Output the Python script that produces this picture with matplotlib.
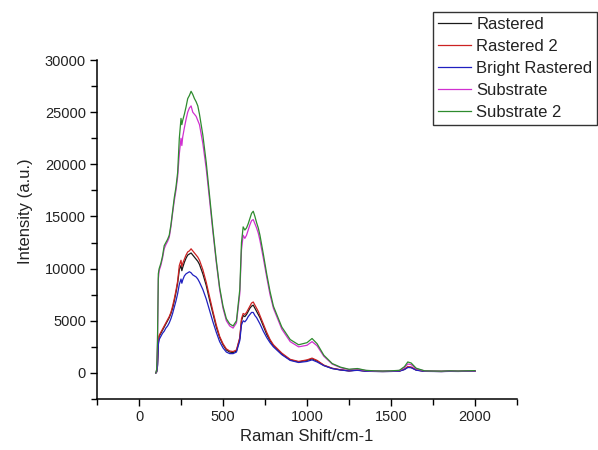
import matplotlib
matplotlib.use("Agg")
import matplotlib.pyplot as plt
from matplotlib.ticker import MultipleLocator

plt.rcParams['font.family'] = ['Liberation Sans', 'DejaVu Sans']

shift = [100, 105, 110, 115, 120, 130, 140, 150, 160, 170, 180, 190, 200, 210, 220,
         230, 240, 250, 255, 260, 270, 280, 290, 300, 310, 320, 330, 340, 350, 360,
         380, 400, 420, 440, 460, 480, 500, 520, 540, 560, 580, 600, 610, 620, 630,
         640, 650, 660, 670, 680, 690, 700, 710, 720, 740, 760, 780, 800, 850, 900,
         950, 1000, 1030, 1060, 1100, 1150, 1200, 1250, 1300, 1350, 1400, 1450, 1500,
         1550, 1580, 1600, 1620, 1650, 1700, 1750, 1800, 1850, 1900, 1950, 2000]

rastered = [0, 100, 700, 2900, 3500, 3800, 4100, 4400, 4700, 5000, 5300, 5700, 6200, 6900, 7700,
            8600, 9900, 10300, 9800, 10100, 10600, 11000, 11300, 11400, 11500, 11300, 11100, 10900, 10700, 10400,
            9500, 8400, 7000, 5700, 4400, 3400, 2700, 2200, 2000, 1950, 2100, 3300, 5000, 5500, 5400,
            5600, 5900, 6200, 6400, 6500, 6200, 5900, 5600, 5300, 4500, 3700, 3100, 2600, 1800, 1250,
            1050, 1200, 1350, 1150, 720, 430, 290, 200, 270, 170, 150, 140, 150,
            180, 350, 560, 530, 280, 160, 150, 140, 160, 150, 170, 180]

rastered_2 = [0, 100, 800, 3000, 3600, 3900, 4200, 4500, 4800, 5100, 5400, 5800, 6400, 7100, 7900,
              8800, 10300, 10800, 10200, 10500, 10900, 11300, 11600, 11700, 11900, 11700, 11500, 11300, 11100, 10800,
              9900, 8700, 7300, 5900, 4600, 3500, 2800, 2300, 2100, 2050, 2200, 3400, 5200, 5700, 5600,
              5800, 6100, 6400, 6700, 6800, 6500, 6200, 5900, 5500, 4700, 3900, 3200, 2700, 1900, 1300,
              1100, 1250, 1420, 1200, 750, 450, 300, 200, 280, 180, 150, 140, 150,
              190, 360, 600, 560, 300, 160, 150, 140, 160, 150, 170, 180]

bright_rastered = [0, 100, 600, 2700, 3200, 3500, 3800, 4000, 4300, 4500, 4800, 5200, 5700, 6300, 6900,
                   7600, 8500, 9000, 8600, 8900, 9300, 9500, 9600, 9700, 9600, 9400, 9300, 9200, 9000, 8700,
                   8000, 7100, 6000, 4900, 3900, 3000, 2400, 2000, 1850, 1850, 2000, 3100, 4600, 5000, 4900,
                   5100, 5400, 5600, 5800, 5800, 5500, 5300, 5000, 4700, 4000, 3400, 2900, 2500, 1750, 1200,
                   1000, 1100, 1250, 1050, 700, 420, 280, 190, 250, 160, 140, 130, 140,
                   170, 320, 520, 500, 260, 150, 140, 130, 150, 140, 160, 170]

substrate = [0, 300, 2800, 9000, 9800, 10300, 11000, 11900, 12300, 12600, 13000, 14000, 15300, 16500, 17500,
             18800, 21000, 22500, 21800, 22600, 23500, 24300, 25000, 25400, 25600, 25000, 24800, 24600, 24200, 23800,
             22000, 19600, 16600, 13500, 10600, 8000, 6200, 5000, 4500, 4300, 4800, 7600, 11800, 13200, 12900,
             13200, 13700, 14200, 14600, 14700, 14300, 13900, 13400, 12700, 11000, 9200, 7500, 6200, 4200, 3000,
             2500, 2650, 3000, 2600, 1600, 850, 500, 320, 380, 230, 180, 170, 190,
             230, 520, 850, 800, 400, 190, 170, 160, 190, 170, 190, 200]

substrate_2 = [0, 300, 3000, 9500, 10000, 10500, 11200, 12200, 12500, 12800, 13200, 14200, 15500, 16800, 17800,
               19200, 22500, 24400, 23800, 24200, 24800, 25500, 26300, 26600, 27000, 26700, 26300, 26000, 25600, 24800,
               22800, 20200, 17000, 13800, 10800, 8200, 6400, 5200, 4700, 4500, 5000, 8000, 12500, 14000, 13700,
               13900, 14300, 14800, 15300, 15500, 15000, 14400, 13900, 13200, 11400, 9500, 7800, 6400, 4400, 3200,
               2700, 2900, 3300, 2800, 1700, 900, 550, 350, 420, 250, 200, 180, 200,
               250, 600, 1050, 950, 450, 200, 180, 170, 200, 180, 200, 220]

series_names = ['Rastered', 'Rastered 2', 'Bright Rastered', 'Substrate', 'Substrate 2']
series_colors = ['#1a1a1a', '#cc2222', '#2020c0', '#d030d0', '#2e8b2e']

fig = plt.figure(figsize=(5.98, 4.5), dpi=100)
ax = fig.add_axes([97 / 598, 1 - 399 / 450, 420 / 598, 339 / 450])

all_series = [rastered, rastered_2, bright_rastered, substrate, substrate_2]
for vals, name, col in zip(all_series, series_names, series_colors):
    ax.plot(shift, vals, color=col, lw=0.9, label=name)

ax.set_xlim(-250, 2250)
ax.set_ylim(-2500, 30000)
ax.xaxis.set_major_locator(MultipleLocator(500))
ax.xaxis.set_minor_locator(MultipleLocator(250))
ax.yaxis.set_major_locator(MultipleLocator(5000))
ax.yaxis.set_minor_locator(MultipleLocator(2500))

ax.spines['top'].set_visible(False)
ax.spines['right'].set_visible(False)
for s in ['left', 'bottom']:
    ax.spines[s].set_linewidth(1.1)
ax.tick_params(which='major', direction='out', length=5, width=1, labelsize=10.5, pad=3,
               labelcolor='#222222')
ax.tick_params(which='minor', direction='out', length=4, width=1)

ax.set_xlabel('Raman Shift/cm-1', fontsize=12, color='#222222')
ax.set_ylabel('Intensity (a.u.)', fontsize=12, color='#222222')
ax.xaxis.set_label_coords(0.5, -0.112)
ax.yaxis.set_label_coords(-0.171, 0.555)
ax.xaxis.label.set_va('center')
ax.yaxis.label.set_va('center')

leg = fig.legend(loc='upper right', bbox_to_anchor=(0.999, 0.973), fontsize=12,
                 fancybox=False, edgecolor='#333333', framealpha=1,
                 handlelength=2.0, handletextpad=0.3, labelspacing=0.42,
                 borderpad=0.3, borderaxespad=0)
leg.get_frame().set_linewidth(1.0)
for t in leg.get_texts():
    t.set_color('#222222')

fig.savefig('out.png', dpi=100)
